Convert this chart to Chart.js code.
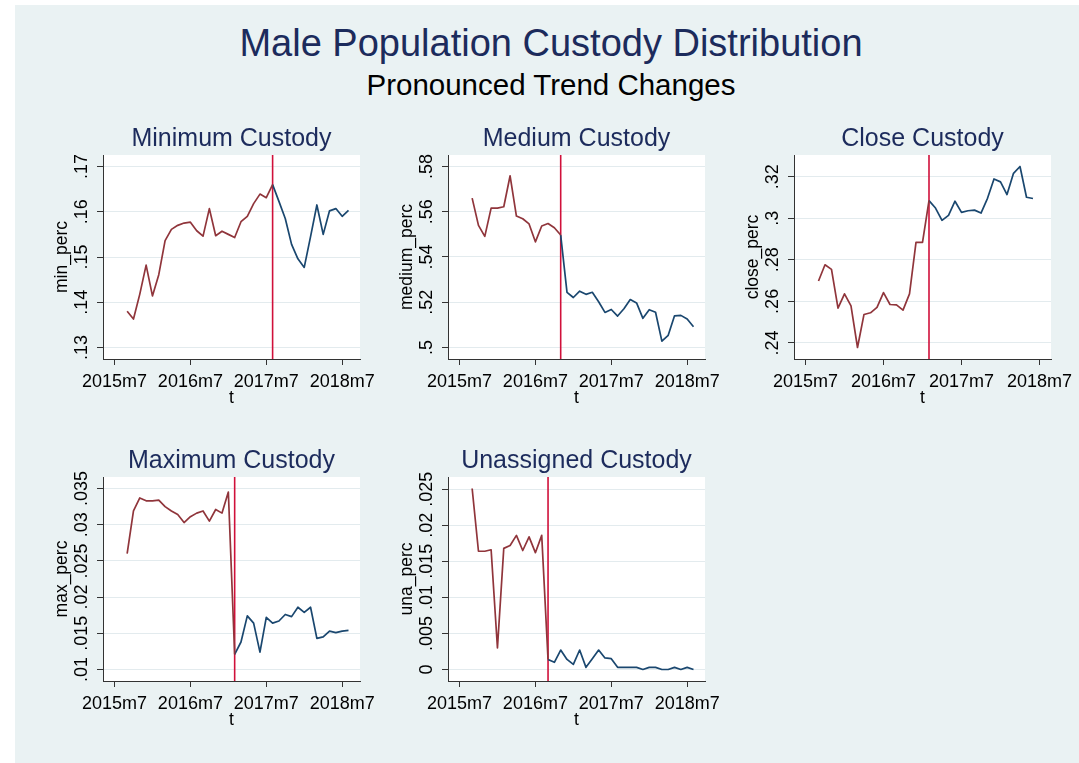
<!DOCTYPE html>
<html><head><meta charset="utf-8">
<script src="https://cdn.jsdelivr.net/npm/chart.js@4.4.1/dist/chart.umd.min.js"></script>
<style>
html,body{margin:0;padding:0;background:#fff;overflow:hidden;width:1079px;height:763px;}
#bg{position:absolute;left:15px;top:5px;width:1064px;height:758px;background:#eaf2f3;}
.ttl{position:absolute;left:15px;width:1072px;text-align:center;font-family:'Liberation Sans',Arial,sans-serif;white-space:nowrap;}
#t1{top:22px;font-size:38px;line-height:42px;color:#1c2b5c;}
#t2{top:68px;font-size:29.5px;line-height:34px;color:#000;}
canvas{position:absolute;}
</style></head><body>
<div id="bg"></div>
<div class="ttl" id="t1">Male Population Custody Distribution</div>
<div class="ttl" id="t2">Pronounced Trend Changes</div>
<canvas id="c1" width="357" height="299" style="left:33px;top:110px"></canvas>
<canvas id="c2" width="357" height="299" style="left:378px;top:110px"></canvas>
<canvas id="c3" width="357" height="299" style="left:724px;top:110px"></canvas>
<canvas id="c4" width="357" height="299" style="left:33px;top:432px"></canvas>
<canvas id="c5" width="357" height="299" style="left:378px;top:432px"></canvas>
<script>
// ---- data ----
const months = ["2015m9","2015m10","2015m11","2015m12",
  "2016m1","2016m2","2016m3","2016m4","2016m5","2016m6","2016m7","2016m8","2016m9","2016m10","2016m11","2016m12",
  "2017m1","2017m2","2017m3","2017m4","2017m5","2017m6","2017m7","2017m8","2017m9","2017m10","2017m11","2017m12",
  "2018m1","2018m2","2018m3","2018m4","2018m5","2018m6","2018m7","2018m8"];
const xTickValues = [0, 12, 24, 36];
const xTickLabels = ["2015m7","2016m7","2017m7","2018m7"];

const minPerc = [.1380,.1363,.1418,.1482,.1414,.1461,.1536,.1561,.1570,.1575,.1577,.1558,.1546,.1607,.1547,.1557,.1550,.1543,.1578,.1590,.1618,.1639,.1631,.1660,.1623,.1585,.1528,.1496,.1477,.1545,.1615,.1550,.1602,.1607,.1590,.1603];
const minBreak = "2017m8";
const minTicks = [.13,.14,.15,.16,.17];
const minTickLabels = [".13",".14",".15",".16",".17"];

const mediumPerc = [.5660,.5540,.5491,.5616,.5616,.5622,.5759,.5581,.5569,.5546,.5467,.5537,.5548,.5529,.5497,.5244,.5221,.5249,.5235,.5244,.5202,.5155,.5168,.5139,.5171,.5212,.5197,.5129,.5167,.5156,.5028,.5054,.5140,.5142,.5126,.5092];
const mediumBreak = "2016m11";
const mediumTicks = [.5,.52,.54,.56,.58];
const mediumTickLabels = [".5",".52",".54",".56",".58"];

const closePerc = [.2698,.2776,.2754,.2567,.2636,.2578,.2378,.2537,.2545,.2571,.2642,.2585,.2583,.2558,.2636,.2884,.2884,.3085,.3049,.2990,.3014,.3082,.3028,.3036,.3039,.3025,.3096,.3189,.3175,.3114,.3216,.3249,.3101,.3095];
const closeBreak = "2017m2";
const closeTicks = [.24,.26,.28,.3,.32];
const closeTickLabels = [".24",".26",".28",".3",".32"];

const maxPerc = [.0260,.0319,.0337,.0333,.0333,.0334,.0325,.0319,.0314,.0303,.0311,.0316,.0319,.0305,.0321,.0316,.0345,.0121,.0138,.0174,.0164,.0124,.0172,.0164,.0167,.0176,.0173,.0186,.0179,.0186,.0143,.0145,.0153,.0151,.0153,.0154];
const maxBreak = "2017m2";
const maxTicks = [.01,.015,.02,.025,.03,.035];
const maxTickLabels = [".01",".015",".02",".025",".03",".035"];

const unaPerc = [.0251,.0164,.0164,.0166,.0030,.0168,.0172,.0186,.0165,.0184,.0162,.0186,.0014,.0010,.0027,.0014,.0007,.0027,.0003,.0015,.0027,.0016,.0015,.0003,.0003,.0003,.0003,0,.0003,.0003,0,0,.0003,0,.0003,0];
const unaBreak = "2016m9";
const unaTicks = [0,.005,.01,.015,.02,.025];
const unaTickLabels = ["0",".005",".01",".015",".02",".025"];

// ---- styling ----
const FONT = "'Liberation Sans', Arial, sans-serif";
const RED = "#90353b", BLUE = "#1a476f", VLINE = "#d0103a";
const GRID = "#e3ebee", AXIS = "#333333", TITLE_COLOR = "#1c2b5c";
const PLOT_W = 257, PLOT_H = 204, MARGIN = 11.5;
const TICK_SIZE = 18, AXTITLE_SIZE = 17.5;

function monthIndex(s){ const p = s.split('m').map(Number); return (p[0]-2015)*12 + (p[1]-7); }

const plotBg = {
  id:'plotBg',
  beforeDraw(chart){
    const {ctx, chartArea:a} = chart;
    ctx.save(); ctx.fillStyle = '#ffffff';
    ctx.fillRect(a.left, a.top, a.right-a.left, a.bottom-a.top);
    ctx.restore();
  }
};

const mctx = document.createElement('canvas').getContext('2d');

function buildPanel(id, title, yTitle, values, breakMonth, yTicks, yLabels){
  const xs = months.slice(0, values.length).map(monthIndex);
  const b = monthIndex(breakMonth);
  const pre = [], post = [];
  values.forEach((v,i)=>{
    if (xs[i] <= b) pre.push({x:xs[i], y:v});
    if (xs[i] >= b) post.push({x:xs[i], y:v});
  });
  const xLo = Math.min(xTickValues[0], xs[0]);
  const xHi = Math.max(xTickValues[xTickValues.length-1], xs[xs.length-1]);
  const xPad = (xHi-xLo)*MARGIN/(PLOT_W-2*MARGIN);
  const yLo = Math.min(yTicks[0], Math.min(...values));
  const yHi = Math.max(yTicks[yTicks.length-1], Math.max(...values));
  const yPad = (yHi-yLo)*MARGIN/(PLOT_H-2*MARGIN);
  const yMin = yLo - yPad, yMax = yHi + yPad;

  mctx.font = TICK_SIZE + "px " + FONT;
  const widest = Math.max(...yLabels.map(l => mctx.measureText(l).width));

  const tickFont = {family:FONT, size:TICK_SIZE};
  const axFont = {family:FONT, size:AXTITLE_SIZE};
  new Chart(document.getElementById(id), {
    type:'line',
    data:{datasets:[
      {data:pre, borderColor:RED, borderWidth:1.7, pointRadius:0, tension:0, fill:false, borderJoinStyle:'round'},
      {data:post, borderColor:BLUE, borderWidth:1.7, pointRadius:0, tension:0, fill:false, borderJoinStyle:'round'},
      {data:[{x:b, y:yMin},{x:b, y:yMax}], borderColor:VLINE, borderWidth:1.6, pointRadius:0, fill:false}
    ]},
    options:{
      responsive:false, animation:false, devicePixelRatio:1, events:[],
      layout:{padding:{left:0, right:30, top:0, bottom:0}},
      plugins:{
        legend:{display:false}, tooltip:{enabled:false},
        title:{display:true, text:title, fullSize:false, color:TITLE_COLOR,
          font:{family:FONT, size:25, weight:'normal'}, padding:{top:14.5, bottom:0.5}}
      },
      scales:{
        x:{type:'linear', position:'bottom', min:xLo-xPad, max:xHi+xPad, bounds:'data',
          afterBuildTicks:s=>{ s.ticks = xTickValues.map(v=>({value:v})); },
          afterFit:s=>{ s.height = 50; },
          ticks:{autoSkip:false, minRotation:0, maxRotation:0, padding:5.8, color:'#000', font:tickFont,
            callback:v=>xTickLabels[xTickValues.indexOf(v)]},
          grid:{drawOnChartArea:false, drawTicks:true, tickLength:6, tickColor:AXIS, tickWidth:1},
          border:{display:true, color:AXIS, width:1},
          title:{display:true, text:'t', color:'#000', font:axFont, padding:{top:0, bottom:0}}
        },
        y:{type:'linear', position:'left', min:yMin, max:yMax, bounds:'data',
          afterBuildTicks:s=>{ s.ticks = yTicks.map(v=>({value:v})); },
          afterFit:s=>{ s.width = 70; },
          ticks:{autoSkip:false, minRotation:90, maxRotation:90, crossAlign:'center',
            padding:15.2 - widest/2, color:'#000', font:tickFont,
            callback:v=>yLabels[yTicks.indexOf(v)]},
          grid:{color:GRID, lineWidth:1, drawTicks:true, tickLength:6, tickColor:AXIS, tickWidth:1},
          border:{display:true, color:AXIS, width:1},
          title:{display:true, text:yTitle, color:'#000', font:axFont, padding:{top:19.1, bottom:0}}
        }
      }
    },
    plugins:[plotBg]
  });
}

buildPanel('c1', 'Minimum Custody', 'min_perc', minPerc, minBreak, minTicks, minTickLabels);
buildPanel('c2', 'Medium Custody', 'medium_perc', mediumPerc, mediumBreak, mediumTicks, mediumTickLabels);
buildPanel('c3', 'Close Custody', 'close_perc', closePerc, closeBreak, closeTicks, closeTickLabels);
buildPanel('c4', 'Maximum Custody', 'max_perc', maxPerc, maxBreak, maxTicks, maxTickLabels);
buildPanel('c5', 'Unassigned Custody', 'una_perc', unaPerc, unaBreak, unaTicks, unaTickLabels);
</script>
</body></html>
